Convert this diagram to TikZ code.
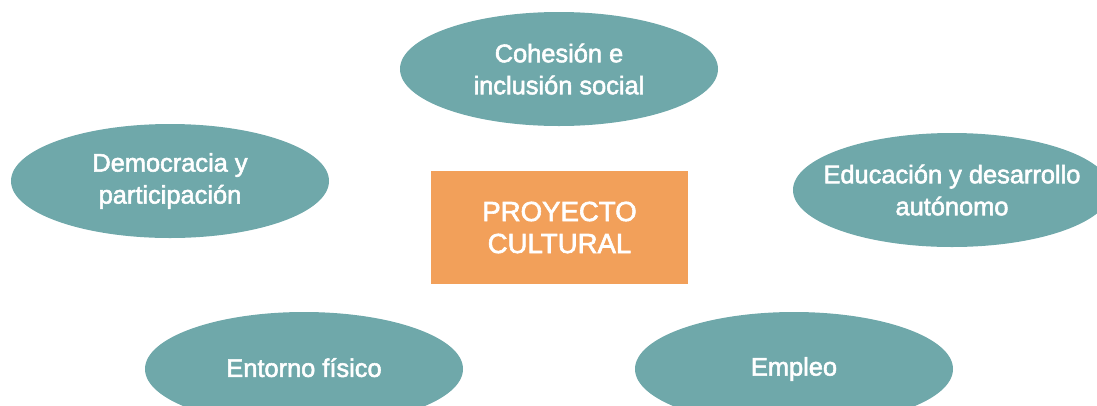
\documentclass[tikz,border=0pt]{standalone}
\usepackage{fontspec}
\setmainfont{Liberation Sans}
\newfontfamily\mediumfont{Liberation Sans}[FakeBold=2.2]
\usetikzlibrary{shapes.geometric}
\definecolor{tealfill}{HTML}{6FA8AA}
\definecolor{orangefill}{HTML}{F2A05A}
\begin{document}
\begin{tikzpicture}
        [x=1pt, y=-1pt, font=\mediumfont\fontsize{25.4}{32}\selectfont,
         area/.style={ellipse, fill=tealfill, text=white, minimum width=318pt, minimum height=114pt, inner sep=-40pt, align=center},
         core/.style={rectangle, fill=orangefill, text=white, minimum width=257pt, minimum height=113pt, inner sep=0pt, align=center, font=\mediumfont\fontsize{27.6}{32}\selectfont}]

        \useasboundingbox (0, 0) rectangle (1097, 405);
        \clip (0, 0) rectangle (1097, 405);

        \node[core] (proyecto) at (559.5, 227.5) {PROYECTO\\CULTURAL};

        \node[area] (cohesion) at (559, 69) {Cohesión e\\inclusión social};
        \node[area] (democracia) at (170, 181) {Democracia y\\participación};
        \node[area] (educacion) at (952, 190) {Educación y desarrollo\\autónomo};
        \node[area] (entorno) at (304, 369) {\raisebox{3pt}{Entorno físico}};
        \node[area] (empleo) at (794, 369) {\raisebox{3pt}{Empleo}};
    \end{tikzpicture}
\end{document}
